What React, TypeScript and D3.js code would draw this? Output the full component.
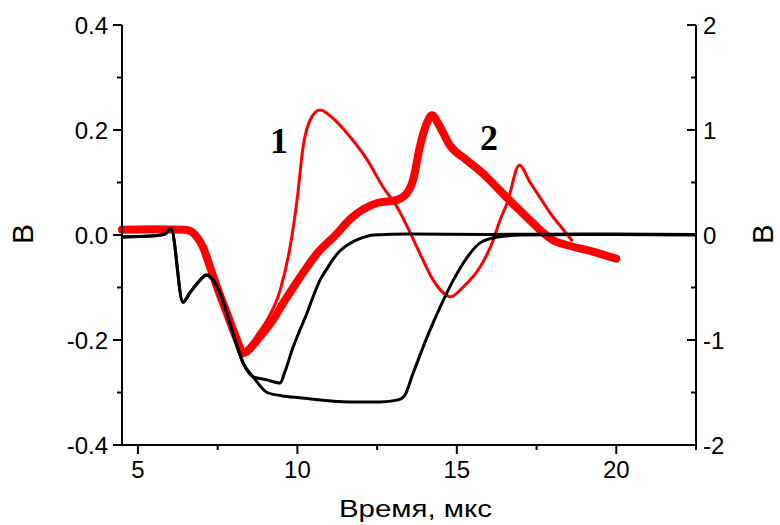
import React from "react";
import * as d3 from "d3";

// Time axis (µs)
const xTicksMajor = [5, 10, 15, 20];
const xTicksMinor = [7.5, 12.5, 17.5, 22.5];
const yLeftMajor = [-0.4, -0.2, 0.0, 0.2, 0.4];
const yLeftMinor = [-0.3, -0.1, 0.1, 0.3];
const yLeftLabels = ["-0.4", "-0.2", "0.0", "0.2", "0.4"];
const yRightMajor = [-2, -1, 0, 1, 2];
const yRightMinor = [-1.5, -0.5, 0.5, 1.5];
const yRightLabels = ["-2", "-1", "0", "1", "2"];

// Black trace 1 (left axis)
const black1T = [4.5, 5.4, 5.85, 6.04, 6.41, 6.63, 6.95, 7.14, 7.36, 7.57, 7.98, 8.3, 8.61, 9.05, 9.46, 9.6, 9.87, 10.08, 10.3, 10.49, 10.71, 10.93, 11.12, 11.34, 11.65, 12.0, 12.4, 13.5, 16, 19, 22.5];
const black1V = [-0.004, -0.002, 0.002, 0.012, -0.128, -0.11, -0.086, -0.076, -0.086, -0.11, -0.187, -0.244, -0.27, -0.276, -0.282, -0.262, -0.213, -0.181, -0.149, -0.118, -0.086, -0.064, -0.046, -0.03, -0.016, -0.006, 0.0, 0.002, 0.001, 0.002, 0.001];

// Black trace 2 (left axis)
const black2T = [4.5, 5.4, 5.85, 6.04, 6.41, 6.63, 6.95, 7.14, 7.36, 7.57, 7.98, 8.3, 8.61, 9.05, 9.5, 10.08, 11.65, 12.6, 13.16, 13.35, 13.63, 14.07, 14.48, 14.89, 15.33, 15.73, 16.27, 17, 19, 22.5];
const black2V = [-0.004, -0.002, 0.002, 0.012, -0.128, -0.11, -0.086, -0.076, -0.086, -0.11, -0.187, -0.244, -0.27, -0.3, -0.306, -0.31, -0.318, -0.318, -0.314, -0.307, -0.263, -0.194, -0.137, -0.086, -0.042, -0.015, -0.004, 0.0, 0.001, 0.0];

// Red trace 1 (right axis)
const red1T = [4.5, 5.5, 6.5, 6.85, 7.04, 7.26, 7.48, 7.79, 8.11, 8.3, 8.74, 9.05, 9.46, 9.77, 9.99, 10.18, 10.4, 10.71, 11.12, 11.65, 12.19, 12.69, 13.13, 13.54, 13.94, 14.26, 14.57, 14.79, 15.2, 15.73, 16.14, 16.36, 16.58, 16.96, 17.3, 17.6, 18.02, 18.34, 18.6];
const red1V = [0.05, 0.055, 0.05, -0.02, -0.115, -0.305, -0.495, -0.745, -1.0, -1.125, -0.95, -0.81, -0.525, -0.115, 0.335, 0.84, 1.095, 1.19, 1.11, 0.935, 0.715, 0.455, 0.265, 0.02, -0.24, -0.43, -0.55, -0.59, -0.495, -0.305, -0.05, 0.145, 0.305, 0.665, 0.5, 0.36, 0.17, 0.05, -0.05];

// Red trace 2 (right axis)
const red2T = [4.5, 5.5, 6.5, 6.85, 7.04, 7.26, 7.48, 7.79, 8.11, 8.3, 8.74, 9.2, 9.55, 9.87, 10.2, 10.62, 11.2, 11.65, 12.5, 13.13, 13.44, 13.63, 13.84, 14.06, 14.22, 14.47, 14.78, 15.3, 15.8, 16.33, 16.87, 17.28, 17.6, 18.02, 18.5, 19.09, 19.5, 20.0];
const red2V = [0.05, 0.055, 0.05, -0.02, -0.115, -0.305, -0.495, -0.745, -1.0, -1.125, -1.0, -0.825, -0.65, -0.5, -0.35, -0.175, 0.0, 0.15, 0.305, 0.335, 0.4, 0.525, 0.84, 1.065, 1.14, 1.03, 0.855, 0.715, 0.59, 0.43, 0.265, 0.145, 0.05, -0.05, -0.1, -0.145, -0.18, -0.225];

const curveLabels = [
  { text: "1", t: 9.42, v: 0.156 },
  { text: "2", t: 16.01, v: 0.162 },
];

const W = 780;
const H = 525;
const SANS = "Arial, 'Liberation Sans', sans-serif";
const SERIF = "'Times New Roman', 'Liberation Serif', serif";

export default function App() {
  const x = d3.scaleLinear().domain([4.5, 22.5]).range([122, 696]);
  const yL = d3.scaleLinear().domain([-0.4, 0.4]).range([445, 25]);
  const yR = d3.scaleLinear().domain([-2, 2]).range([445, 25]);

  const mk = (ts: number[], vs: number[], ys: d3.ScaleLinear<number, number>) =>
    d3
      .line<number>()
      .x((_, i) => x(ts[i]))
      .y((v) => ys(v))
      .curve(d3.curveMonotoneX)(vs) || "";

  const [x0, x1] = x.range();
  const [yb, yt] = yL.range();

  return (
    <svg width={W} height={H} style={{ position: "absolute", left: 0, top: 0, background: "#fff" }}>
      {/* traces */}
      <path d={mk(red2T, red2V, yR)} fill="none" stroke="#ff0000" strokeWidth={8} strokeLinejoin="round" strokeLinecap="round" />
      <path d={mk(red1T, red1V, yR)} fill="none" stroke="#ff0000" strokeWidth={3} strokeLinejoin="round" strokeLinecap="round" />
      <path d={mk(black2T, black2V, yL)} fill="none" stroke="#000" strokeWidth={3} strokeLinejoin="round" />
      <path d={mk(black1T, black1V, yL)} fill="none" stroke="#000" strokeWidth={3} strokeLinejoin="round" />

      {/* axes lines */}
      <g stroke="#000" strokeWidth={2} fill="none">
        <line x1={x0} y1={yt} x2={x0} y2={yb + 1} />
        <line x1={x1} y1={yt} x2={x1} y2={yb + 1} />
        <line x1={x0 - 1} y1={yb} x2={x1 + 1} y2={yb} />
      </g>

      {/* ticks */}
      <g stroke="#000" strokeWidth={2}>
        {xTicksMajor.map((t) => (
          <line key={"xm" + t} x1={x(t)} x2={x(t)} y1={yb} y2={yb + 9} />
        ))}
        {xTicksMinor.map((t) => (
          <line key={"xn" + t} x1={x(t)} x2={x(t)} y1={yb} y2={yb + 5} />
        ))}
        {yLeftMajor.map((t) => (
          <line key={"lm" + t} x1={x0 - 9} x2={x0} y1={yL(t)} y2={yL(t)} />
        ))}
        {yLeftMinor.map((t) => (
          <line key={"ln" + t} x1={x0 - 5} x2={x0} y1={yL(t)} y2={yL(t)} />
        ))}
        {yRightMajor.map((t) => (
          <line key={"rm" + t} x1={x1 - 9} x2={x1} y1={yR(t)} y2={yR(t)} />
        ))}
        {yRightMinor.map((t) => (
          <line key={"rn" + t} x1={x1 - 5} x2={x1} y1={yR(t)} y2={yR(t)} />
        ))}
      </g>

      {/* tick labels */}
      <g fontFamily={SANS} fontSize={24} fill="#000">
        {xTicksMajor.map((t) => (
          <text key={"xl" + t} x={x(t)} y={478} textAnchor="middle">
            {t}
          </text>
        ))}
        {yLeftMajor.map((t, i) => (
          <text key={"yl" + t} x={108} y={yL(t) + 8.5} textAnchor="end">
            {yLeftLabels[i]}
          </text>
        ))}
        {yRightMajor.map((t, i) => (
          <text key={"yr" + t} x={703} y={yR(t) + 8.5} textAnchor="start">
            {yRightLabels[i]}
          </text>
        ))}
      </g>

      {/* axis titles */}
      <text x={339} y={517} textLength={153} lengthAdjust="spacingAndGlyphs" fontFamily={SANS} fontSize={23} fill="#000">
        Время, мкс
      </text>
      <text transform={`translate(33,234) rotate(-90)`} textAnchor="middle" fontFamily={SANS} fontSize={30} fill="#000">
        В
      </text>
      <text transform={`translate(773,234) rotate(-90)`} textAnchor="middle" fontFamily={SANS} fontSize={29} fill="#000">
        В
      </text>

      {/* curve labels */}
      {curveLabels.map((c) => (
        <text key={c.text} x={x(c.t)} y={yL(c.v)} textAnchor="middle" fontFamily={SERIF} fontWeight="bold" fontSize={36} fill="#000">
          {c.text}
        </text>
      ))}
    </svg>
  );
}
